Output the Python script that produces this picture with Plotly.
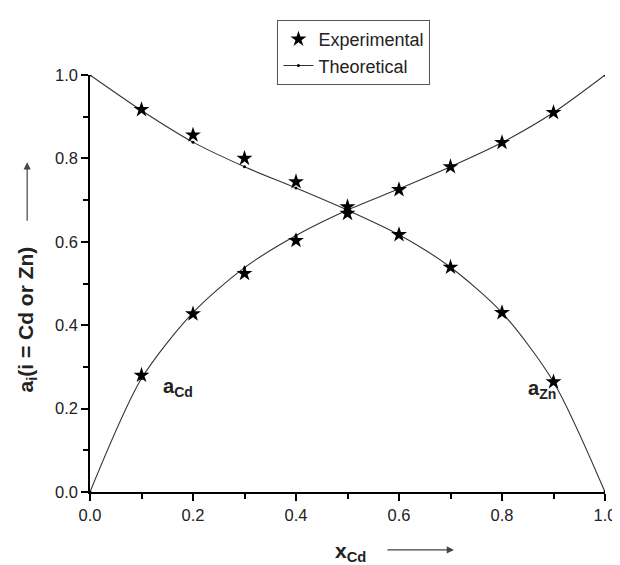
import plotly.graph_objects as go

# Data
x_exp = [0.1, 0.2, 0.3, 0.4, 0.5, 0.6, 0.7, 0.8, 0.9]
a_cd_exp = [0.280, 0.427, 0.524, 0.603, 0.668, 0.725, 0.780, 0.838, 0.910]
a_zn_exp = [0.917, 0.856, 0.800, 0.744, 0.684, 0.617, 0.539, 0.430, 0.264]

x_th = [0.0, 0.1, 0.2, 0.3, 0.4, 0.5, 0.6, 0.7, 0.8, 0.9, 1.0]
a_cd_th = [0.0, 0.272, 0.430, 0.538, 0.615, 0.676, 0.727, 0.780, 0.838, 0.910, 1.0]
a_zn_th = [1.0, 0.915, 0.839, 0.780, 0.729, 0.676, 0.617, 0.539, 0.430, 0.264, 0.0]

tick_vals = [0.0, 0.2, 0.4, 0.6, 0.8, 1.0]
tick_text = ["0.0", "0.2", "0.4", "0.6", "0.8", "1.0"]

FONT = "Arial, Liberation Sans, sans-serif"
LINE_COLOR = "#333333"

fig = go.Figure()

fig.add_trace(go.Scatter(
    x=x_th, y=a_cd_th, mode="lines+markers", name="Theoretical",
    line=dict(color=LINE_COLOR, width=1.1, shape="spline", smoothing=0.8),
    marker=dict(symbol="circle", size=3, color="black"),
    legendgroup="th", showlegend=False, legendrank=2,
))
fig.add_trace(go.Scatter(
    x=x_th, y=a_zn_th, mode="lines+markers", name="Theoretical",
    line=dict(color=LINE_COLOR, width=1.1, shape="spline", smoothing=0.8),
    marker=dict(symbol="circle", size=3, color="black"),
    legendgroup="th", showlegend=True, legendrank=2,
))
fig.add_trace(go.Scatter(
    x=x_exp, y=a_cd_exp, mode="markers", name="Experimental",
    marker=dict(symbol="star", size=12, color="black"),
    legendgroup="exp", showlegend=True, legendrank=1,
))
fig.add_trace(go.Scatter(
    x=x_exp, y=a_zn_exp, mode="markers", name="Experimental",
    marker=dict(symbol="star", size=12, color="black"),
    legendgroup="exp", showlegend=False, legendrank=1,
))

axis_common = dict(
    range=[0, 1], tickvals=tick_vals, ticktext=tick_text,
    showgrid=False, zeroline=False, showline=True, linecolor="black", linewidth=1.5,
    ticks="outside", ticklen=7, tickwidth=1.5, tickcolor="black",
    tickfont=dict(family=FONT, size=16.5, color="#222222"),
    minor=dict(ticks="outside", ticklen=5, tickwidth=1.5, tickcolor="black", dtick=0.1, showgrid=False),
    mirror=False,
)
fig.update_xaxes(**axis_common)
fig.update_yaxes(**axis_common)

annotations = [
    # y-axis title
    dict(xref="paper", yref="paper", x=-0.122, y=0.414, textangle=-90,
         text="<b>a<sub>i</sub>(i = Cd or Zn)</b>", showarrow=False,
         font=dict(family=FONT, size=21, color="#222222"), xanchor="center", yanchor="middle"),
    # y-axis arrow
    dict(xref="paper", yref="paper", x=-0.122, y=0.7906, ax=0, ay=60, text="",
         showarrow=True, arrowhead=2, arrowsize=1.2, arrowwidth=1.2, arrowcolor="#444444"),
    # x-axis title
    dict(xref="paper", yref="paper", x=0.472, y=-0.1435, xanchor="left", yanchor="middle",
         text="<b>x<sub>Cd</sub></b>", showarrow=False,
         font=dict(family=FONT, size=21, color="#222222")),
    # x-axis arrow
    dict(xref="paper", yref="paper", x=0.7067, y=-0.139, ax=-68, ay=0, text="",
         showarrow=True, arrowhead=2, arrowsize=1.2, arrowwidth=1.2, arrowcolor="#444444"),
    # curve labels
    dict(xref="x", yref="y", x=0.138, y=0.25, xanchor="left", yanchor="middle",
         text="<b>a<sub>Cd</sub></b>", showarrow=False,
         font=dict(family=FONT, size=20, color="#222222")),
    dict(xref="x", yref="y", x=0.846, y=0.245, xanchor="left", yanchor="middle",
         text="<b>a<sub>Zn</sub></b>", showarrow=False,
         font=dict(family=FONT, size=20, color="#222222")),
]

fig.update_layout(
    width=620, height=565,
    margin=dict(l=82, r=13, t=59, b=81),
    paper_bgcolor="white", plot_bgcolor="white",
    showlegend=True,
    legend=dict(
        x=0.364, y=1.132, xanchor="left", yanchor="top",
        bordercolor="#555555", borderwidth=1, bgcolor="white",
        font=dict(family=FONT, size=18, color="#222222"),
        tracegroupgap=0, itemwidth=30,
    ),
    annotations=annotations,
)

fig.write_html("out.html")
